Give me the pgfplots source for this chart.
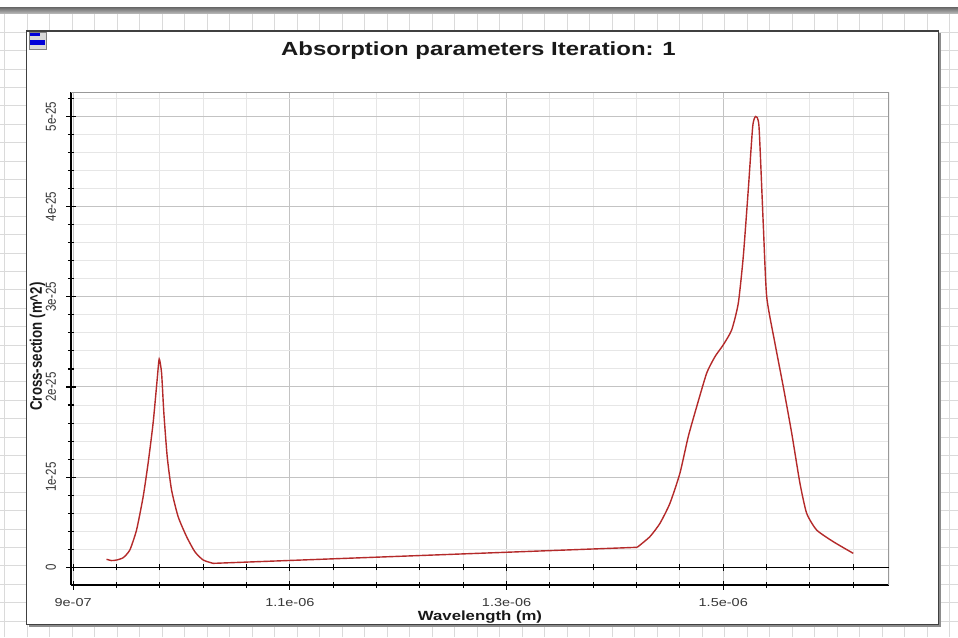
\documentclass[border=0pt]{standalone}
\usepackage{pgfplots}
\pgfplotsset{compat=1.18}
\usepackage{fontspec}
\setmainfont{Liberation Sans}
\definecolor{curve}{RGB}{180,42,42}
\definecolor{majgrid}{RGB}{195,195,195}
\definecolor{mingrid}{RGB}{230,230,230}
\definecolor{bggrid}{RGB}{218,218,218}
\definecolor{txt}{RGB}{55,55,55}
\newcommand{\hs}[1]{\scalebox{1.26}[1]{#1}}
\newcommand{\vs}[1]{\scalebox{1}[1.26]{#1}}
\newcommand{\minx}{0.94,0.98,1.02,1.06,1.14,1.18,1.22,1.26,1.34,1.38,1.42,1.46,1.54,1.58,1.62}
\newcommand{\miny}{0.2,0.4,0.6,0.8,1.2,1.4,1.6,1.8,2.2,2.4,2.6,2.8,3.2,3.4,3.6,3.8,4.2,4.4,4.6,4.8,5.2}
\begin{document}
\begin{tikzpicture}[x=1pt,y=1pt]
\useasboundingbox (0,0) rectangle (958,637);
\fill[white] (0,0) rectangle (958,637);
% background graph-paper grid
\foreach \i in {0,...,42} {\draw[bggrid, line width=1pt] ({4.5+22.5*\i},0) -- ({4.5+22.5*\i},623);}
\foreach \j in {1,...,34} {\draw[bggrid, line width=1pt] (0,{623-18.4*\j}) -- (958,{623-18.4*\j});}
\shade[top color=black!55, bottom color=black!25] (0,623) rectangle (958,629);
% window frame with shadow
\fill[black!45] (29.2,10.0) rectangle (941.0,603.5);
\fill[white, draw=black!75, line width=1.2pt] (26.7,12.5) rectangle (938.5,606);
% small window icon
\fill[black!15, draw=black!50, line width=0.5pt] (29,588) rectangle (46,605);
\fill[blue!85!black] (30,600.5) rectangle (40,604);
\fill[blue!85!black] (30,592) rectangle (45,596.5);
% title
\node[anchor=base, font=\fontsize{19}{22}\selectfont\bfseries, text=black!90] at (478.5,581.3) {\hs{Absorption parameters Iteration: 1}};
\begin{axis}[
  at={(71pt,52pt)}, anchor=south west, scale only axis,
  width=818pt, height=492.5pt,
  xmin=0.898, xmax=1.653, ymin=-0.196, ymax=5.266,
  axis x line*=bottom, axis y line*=left,
  every inner x axis line/.append style={-}, every outer x axis line/.append style={-},
  every inner y axis line/.append style={-}, every outer y axis line/.append style={-},
  axis line style={black, line width=1.3pt, -},
  xtick={0.9,1.1,1.3,1.5},
  xticklabels={\hs{9e-07},\hs{1.1e-06},\hs{1.3e-06},\hs{1.5e-06}},
  minor xtick=\minx,
  ytick={0,1,2,3,4,5},
  yticklabels={\vs{0},\vs{1e-25},\vs{2e-25},\vs{3e-25},\vs{4e-25},\vs{5e-25}},
  minor ytick=\miny,
  grid=both,
  major grid style={majgrid, line width=1pt},
  minor grid style={mingrid, line width=1pt},
  tick align=center,
  major tick length=9pt, minor tick length=6pt,
  every tick/.style={black, line width=1.1pt},
  minor tick style={black, line width=1.1pt},
  tick label style={font=\fontsize{11.5}{13}\selectfont, text=txt},
  xticklabel style={anchor=north},
  xticklabel shift=5pt,
  yticklabel style={rotate=90, anchor=south},
  yticklabel shift=7pt,
  xlabel={\hs{Wavelength (m)}},
  ylabel={\vs{Cross-section (m\textasciicircum 2)}},
  label style={font=\fontsize{13.3}{15}\selectfont\bfseries, text=black!90},
  xlabel style={at={([yshift=-35.7pt]axis description cs:0.5,0)}, anchor=base},
  ylabel style={at={([xshift=-29pt]axis description cs:0,0.484)}, anchor=base, rotate=0},
]
\draw[black!40, line width=1.2pt] (rel axis cs:0,1) -- (rel axis cs:1,1) -- (rel axis cs:1,0);
% 980 nm band
\addplot[curve, line width=1.4pt, smooth, tension=0.35] coordinates {
(0.9308,0.089) (0.9355,0.075) (0.9401,0.081) (0.9462,0.107) (0.9523,0.192)
(0.9585,0.414) (0.9646,0.783) (0.9692,1.157) (0.9738,1.601) (0.9775,2.078)
(0.9794,2.310) (0.9816,2.156) (0.9837,1.712) (0.9868,1.227) (0.9908,0.858)
(0.9969,0.561) (1.0047,0.340) (1.0123,0.173) (1.0200,0.081) (1.0292,0.044)
};
% straight segment between the bands
\addplot[curve, line width=1.4pt] coordinates {(1.0292,0.044) (1.4206,0.222)};
% 1530 nm band
\addplot[curve, line width=1.4pt, smooth, tension=0.35] coordinates {
(1.4206,0.222) (1.4323,0.340) (1.4416,0.488) (1.4508,0.710) (1.4600,1.043)
(1.4677,1.449) (1.4755,1.782) (1.4847,2.153) (1.4924,2.337) (1.5000,2.467)
(1.5078,2.633) (1.5139,2.929) (1.5185,3.447) (1.5231,4.187) (1.5272,4.889)
(1.5299,5.000) (1.5330,4.889) (1.5369,3.817) (1.5401,3.003) (1.5477,2.486)
(1.5554,2.004) (1.5632,1.487) (1.5708,0.932) (1.5770,0.599) (1.5862,0.414)
(1.6016,0.284) (1.6200,0.155)
};
\end{axis}
% zero line with its ticks
\begin{axis}[
  at={(71pt,52pt)}, anchor=south west, scale only axis,
  width=818pt, height=492.5pt,
  xmin=0.898, xmax=1.653, ymin=-0.196, ymax=5.266,
  axis x line=middle, axis y line=none,
  every inner x axis line/.append style={-}, every outer x axis line/.append style={-},
  axis line style={black, line width=1.3pt, -},
  xtick={0.9,1.1,1.3,1.5}, xticklabels={},
  minor xtick=\minx,
  ytick=\empty,
  tick align=center,
  major tick length=7pt, minor tick length=6pt,
  every tick/.style={black, line width=1.1pt},
  minor tick style={black, line width=1.1pt},
]
\end{axis}
\end{tikzpicture}
\end{document}
